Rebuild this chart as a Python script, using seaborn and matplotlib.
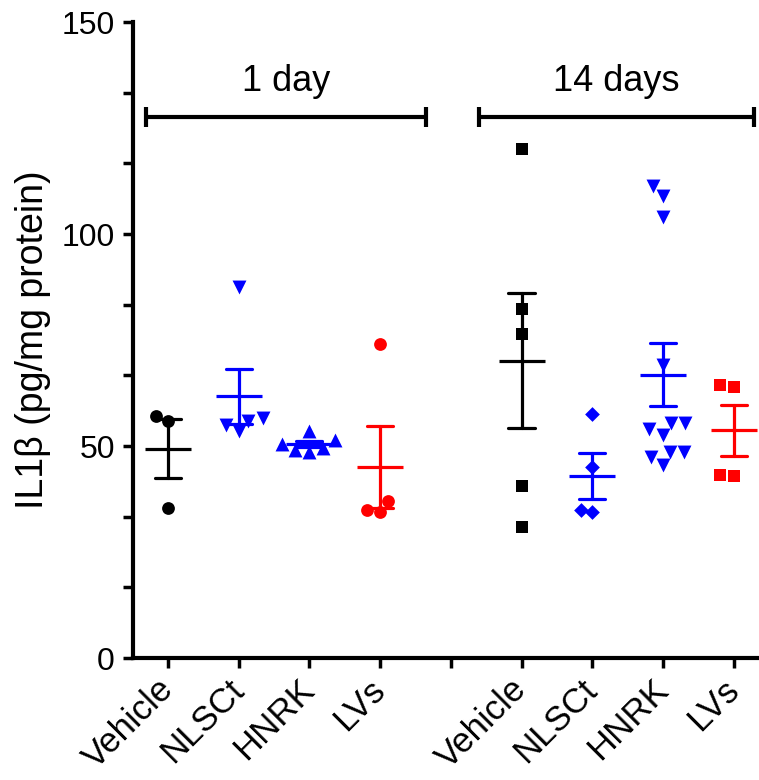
import numpy as np
import pandas as pd
import matplotlib
matplotlib.use("Agg")
import matplotlib.pyplot as plt
from matplotlib.ticker import MultipleLocator
import seaborn as sns

# ---- data ----
order = ["d1_Vehicle", "d1_NLSCt", "d1_HNRK", "d1_LVs", "gap",
         "d14_Vehicle", "d14_NLSCt", "d14_HNRK", "d14_LVs"]
tick_labels = ["Vehicle", "NLSCt", "HNRK", "LVs", "",
               "Vehicle", "NLSCt", "HNRK", "LVs"]

d1_vehicle = [57.0, 55.8, 35.4]
d1_nlsct = [87.5, 56.0, 56.5, 55.0, 53.5]
d1_hnrk = [53.5, 51.5, 50.5, 49.5, 49.0, 48.5]
d1_lvs = [74.0, 37.0, 34.5, 35.0]
d14_vehicle = [120.0, 82.2, 76.5, 40.6, 31.0]
d14_nlsct = [57.6, 45.1, 34.5, 34.8]
d14_hnrk = [111.3, 109.0, 104.0, 69.2, 55.5, 55.5, 53.9, 52.7, 48.5, 48.5, 47.5, 45.6]
d14_lvs = [64.5, 64.0, 43.0, 43.2]

group_values = [d1_vehicle, d1_nlsct, d1_hnrk, d1_lvs,
                d14_vehicle, d14_nlsct, d14_hnrk, d14_lvs]
group_keys = ["d1_Vehicle", "d1_NLSCt", "d1_HNRK", "d1_LVs",
              "d14_Vehicle", "d14_NLSCt", "d14_HNRK", "d14_LVs"]
group_colors = ["black", "#0000FF", "#0000FF", "#FF0000",
                "black", "#0000FF", "#0000FF", "#FF0000"]
group_markers = ["o", "v", "^", "o", "s", "D", "v", "s"]
group_sizes = [9.2, 10, 10, 9.2, 9.2, 7.5, 10, 9.2]

period_labels = ["1 day", "14 days"]
period_spans = [(-0.31, 3.65), (4.40, 8.29)]
bracket_y = 127.6

ylabel = "IL1\u03b2 (pg/mg protein)"

# ---- figure ----
sns.set_style("ticks")
plt.rcParams["font.family"] = ["Liberation Sans", "DejaVu Sans"]
for k in ("text.color", "axes.labelcolor", "xtick.color", "ytick.color",
          "axes.edgecolor", "xtick.labelcolor", "ytick.labelcolor"):
    plt.rcParams[k] = "black"

W, H = 759, 780
fig = plt.figure(figsize=(W / 100, H / 100), dpi=100)
x0, x1 = 133, 769
ytop, ybot = 22, 658
ax = fig.add_axes([x0 / W, 1 - ybot / H, (x1 - x0) / W, (ybot - ytop) / H])

for key, vals, col, mk, sz in zip(group_keys, group_values, group_colors,
                                  group_markers, group_sizes):
    df = pd.DataFrame({"group": [key] * len(vals), "value": vals})
    sns.swarmplot(data=df, x="group", y="value", order=order, color=col,
                  marker=mk, size=sz, linewidth=0, ax=ax, zorder=3)
    sns.pointplot(data=df, x="group", y="value", order=order, color=col,
                  markers="_", markersize=33, markeredgewidth=2.3,
                  linestyles="none", errorbar="se", capsize=0.37,
                  err_kws={"linewidth": 2.3}, ax=ax, zorder=4)

# brackets
for lab, (a, b) in zip(period_labels, period_spans):
    ax.plot([a, b], [bracket_y, bracket_y], color="black", lw=3,
            solid_capstyle="butt", clip_on=False)
    for xx in (a, b):
        ax.plot([xx, xx], [bracket_y - 2.4, bracket_y + 2.4], color="black",
                lw=3, solid_capstyle="butt", clip_on=False)
    ax.text((a + b) / 2, bracket_y + 4.3, lab, ha="center", va="bottom",
            fontsize=26)

ax.set_xlim(-0.495, 8.5)
ax.set_ylim(0, 150)
ax.set_yticks([0, 50, 100, 150])
ax.yaxis.set_minor_locator(MultipleLocator(50 / 3))
ax.set_xticks(range(len(order)))
ax.set_xticklabels(tick_labels, rotation=45, ha="right", va="center",
                   rotation_mode="anchor", fontsize=25)
ax.tick_params(axis="x", pad=12)
ax.tick_params(axis="y", labelsize=23, pad=6)
ax.tick_params(which="both", width=2.5, length=7, direction="out",
               color="black")
ax.set_xlabel("")
ax.set_ylabel(ylabel, fontsize=27, labelpad=8)

sns.despine(ax=ax)
for s in ("left", "bottom"):
    ax.spines[s].set_linewidth(3)
    ax.spines[s].set_color("black")

fig.savefig("out.png", dpi=100)
